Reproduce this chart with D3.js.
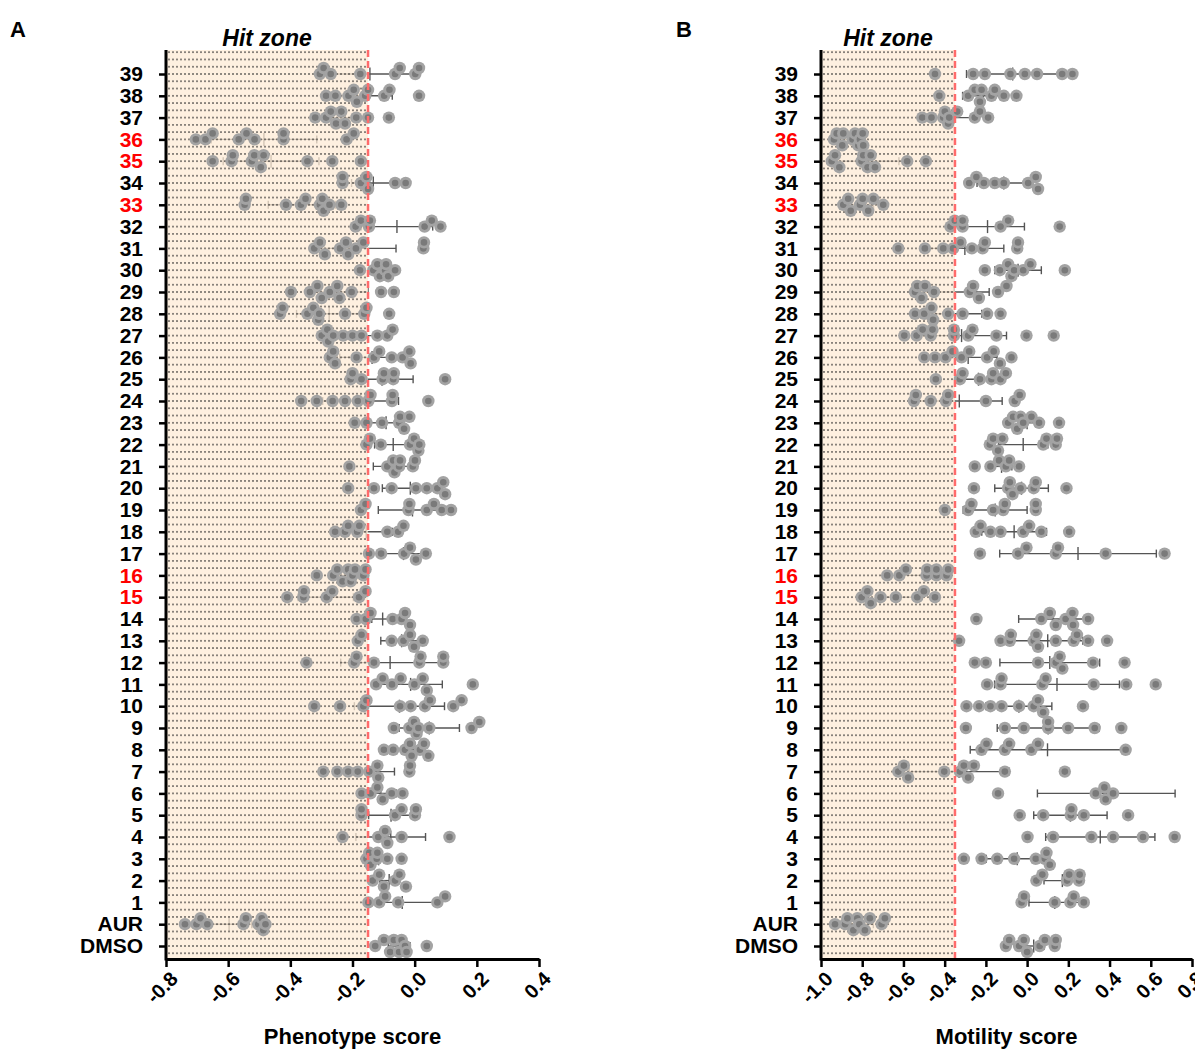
<!DOCTYPE html>
<html>
<head>
<meta charset="utf-8">
<script src="https://cdn.jsdelivr.net/npm/d3@7"></script>
<style>
  body { margin: 0; background: #fff; }
  text { font-family: "Liberation Sans", Arial, sans-serif; }
</style>
</head>
<body>
<div id="chart"></div>
<script>
// row labels, top to bottom
const categories = ["39","38","37","36","35","34","33","32","31","30","29","28","27","26","25","24","23","22","21","20",
  "19","18","17","16","15","14","13","12","11","10","9","8","7","6","5","4","3","2","1","AUR","DMSO"];
const hitLabels = ["36","35","33","16","15"];

const ticksA = [-0.8, -0.6, -0.4, -0.2, 0.0, 0.2, 0.4];
const ticksB = [-1.0, -0.8, -0.6, -0.4, -0.2, 0.0, 0.2, 0.4, 0.6, 0.8];
const hitA = -0.15;
const hitB = -0.35;

// phenotype score, one array of replicates per row
const ptsA = [
  [-0.305,-0.293,-0.27,-0.175,-0.048,-0.063,0.002,0.014],
  [-0.255,-0.285,-0.213,-0.196,-0.186,-0.159,-0.15,-0.098,-0.081,0.014],
  [-0.32,-0.285,-0.27,-0.253,-0.236,-0.224,-0.188,-0.15,-0.083],
  [-0.704,-0.673,-0.65,-0.566,-0.541,-0.515,-0.422,-0.422,-0.219,-0.196],
  [-0.65,-0.589,-0.585,-0.524,-0.516,-0.486,-0.495,-0.345,-0.265,-0.173],
  [-0.232,-0.232,-0.173,-0.155,-0.15,-0.063,-0.029],
  [-0.543,-0.547,-0.414,-0.366,-0.351,-0.305,-0.293,-0.297,-0.274,-0.236],
  [-0.173,-0.19,-0.147,-0.144,0.032,0.055,0.083],
  [-0.323,-0.305,-0.289,-0.24,-0.221,-0.214,-0.189,-0.165,0.028,0.03],
  [-0.176,-0.133,-0.112,-0.12,-0.092,-0.085,-0.095,-0.063],
  [-0.398,-0.337,-0.313,-0.299,-0.273,-0.249,-0.242,-0.203,-0.108,-0.067],
  [-0.433,-0.425,-0.345,-0.326,-0.31,-0.307,-0.224,-0.162,-0.155,-0.082],
  [-0.299,-0.281,-0.278,-0.262,-0.23,-0.2,-0.171,-0.12,-0.088,-0.071],
  [-0.273,-0.262,-0.256,-0.187,-0.131,-0.114,-0.074,-0.039,-0.017,-0.013],
  [-0.206,-0.2,-0.171,-0.103,-0.099,-0.069,-0.067,0.098],
  [-0.365,-0.315,-0.264,-0.224,-0.183,-0.149,-0.142,-0.071,-0.073,0.044],
  [-0.193,-0.155,-0.105,-0.05,-0.047,-0.017,-0.034],
  [-0.155,-0.144,-0.109,-0.015,-0.002,0.015,0.012],
  [-0.21,-0.088,-0.065,-0.069,-0.047,-0.05,-0.006,0.001],
  [-0.214,-0.131,-0.074,0.004,0.039,0.073,0.092,0.098],
  [-0.158,-0.173,-0.02,-0.017,0.039,0.062,0.087,0.117],
  [-0.256,-0.224,-0.214,-0.185,-0.178,-0.088,-0.053,-0.036],
  [-0.147,-0.108,-0.034,-0.015,0.004,0.036],
  [-0.315,-0.262,-0.249,-0.232,-0.214,-0.206,-0.2,-0.192,-0.165,-0.158],
  [-0.41,-0.358,-0.356,-0.283,-0.265,-0.179,-0.158],
  [-0.187,-0.157,-0.142,-0.071,-0.042,-0.031,-0.015],
  [-0.171,-0.183,-0.074,-0.036,-0.015,-0.002,0.026],
  [-0.348,-0.195,-0.187,-0.131,0.015,0.019,0.092,0.092],
  [-0.124,-0.103,-0.073,-0.045,-0.001,0.026,0.039,0.187],
  [-0.323,-0.24,-0.165,-0.155,-0.047,-0.013,0.033,0.049,0.124,0.151],
  [-0.067,-0.017,0.006,-0.002,0.012,0.047,0.183,0.208],
  [-0.099,-0.069,-0.031,-0.015,-0.01,0.017,0.03,0.044],
  [-0.294,-0.249,-0.214,-0.183,-0.146,-0.12,-0.117,-0.015,-0.017],
  [-0.171,-0.142,-0.12,-0.103,-0.074,-0.039],
  [-0.171,-0.171,-0.063,-0.042,0.001,0.004],
  [-0.232,-0.117,-0.095,-0.088,-0.042,0.112],
  [-0.155,-0.146,-0.142,-0.122,-0.12,-0.088,-0.042],
  [-0.135,-0.114,-0.099,-0.063,-0.049,-0.028],
  [-0.149,-0.114,-0.095,-0.053,0.073,0.098],
  [-0.739,-0.702,-0.689,-0.667,-0.551,-0.543,-0.503,-0.492,-0.487,-0.48],
  [-0.127,-0.099,-0.079,-0.067,-0.05,-0.042,-0.031,-0.026,0.039]
];
const meanA = [-0.144,-0.16,-0.223,-0.485,-0.462,-0.133,-0.363,-0.057,-0.18,-0.11,-0.25,-0.275,-0.2,-0.137,-0.105,-0.174,
  -0.092,-0.069,-0.067,-0.014,-0.007,-0.156,-0.036,-0.219,-0.286,-0.103,-0.042,-0.079,-0.013,-0.049,0.047,-0.017,
  -0.154,-0.109,-0.076,-0.077,-0.116,-0.082,-0.04,-0.597,-0.05];
const sdA = [0.138,0.088,0.063,0.17,0.154,0.07,0.108,0.115,0.12,0.03,0.1,0.105,0.088,0.104,0.1,0.122,
  0.05,0.06,0.066,0.09,0.11,0.084,0.063,0.04,0.089,0.035,0.067,0.159,0.102,0.145,0.097,0.048,
  0.089,0.051,0.072,0.112,0.035,0.03,0.102,0.073,0.035];

// motility score
const ptsB = [
  [-0.447,-0.262,-0.205,-0.081,-0.011,0.048,0.17,0.22],
  [-0.426,-0.286,-0.254,-0.229,-0.221,-0.173,-0.157,-0.113,-0.052],
  [-0.509,-0.464,-0.407,-0.399,-0.383,-0.378,-0.339,-0.254,-0.229,-0.189],
  [-0.937,-0.924,-0.892,-0.897,-0.847,-0.835,-0.819,-0.811,-0.798,-0.795],
  [-0.948,-0.932,-0.911,-0.803,-0.795,-0.774,-0.759,-0.738,-0.582,-0.491],
  [-0.281,-0.246,-0.21,-0.157,-0.113,0.005,0.042,0.053],
  [-0.892,-0.868,-0.856,-0.811,-0.798,-0.771,-0.746,-0.698],
  [-0.372,-0.351,-0.313,-0.313,-0.129,-0.092,0.158],
  [-0.625,-0.496,-0.407,-0.359,-0.323,-0.268,-0.216,-0.205,-0.048,-0.044],
  [-0.205,-0.132,-0.092,-0.076,-0.063,-0.019,0.016,0.183],
  [-0.544,-0.533,-0.496,-0.512,-0.452,-0.278,-0.262,-0.234,-0.141,-0.1],
  [-0.544,-0.499,-0.464,-0.456,-0.383,-0.313,-0.194,-0.129],
  [-0.596,-0.536,-0.507,-0.468,-0.459,-0.355,-0.355,-0.286,-0.265,-0.149,-0.003,0.129],
  [-0.499,-0.447,-0.396,-0.362,-0.318,-0.281,-0.194,-0.162,-0.132,-0.076],
  [-0.443,-0.326,-0.313,-0.229,-0.173,-0.165,-0.129,-0.103],
  [-0.549,-0.54,-0.468,-0.394,-0.383,-0.2,-0.06,-0.036],
  [-0.092,-0.068,-0.048,-0.032,-0.019,0.021,0.058,0.155],
  [-0.181,-0.165,-0.141,-0.12,0.078,0.094,0.139,0.145],
  [-0.254,-0.178,-0.136,-0.103,-0.087,-0.039],
  [-0.258,-0.092,-0.071,-0.084,-0.032,0.032,0.042,0.191],
  [-0.399,-0.286,-0.27,-0.165,-0.116,-0.108,0.042,0.042],
  [-0.249,-0.226,-0.178,-0.129,-0.019,0.01,0.069,0.204],
  [-0.229,-0.044,-0.003,0.139,0.15,0.381,0.667],
  [-0.679,-0.62,-0.588,-0.488,-0.485,-0.44,-0.44,-0.391,-0.383],
  [-0.803,-0.775,-0.759,-0.711,-0.637,-0.533,-0.501,-0.447],
  [-0.246,0.069,0.11,0.139,0.187,0.22,0.223,0.296],
  [-0.33,-0.129,-0.079,-0.084,0.032,0.045,0.053,0.139,0.226,0.242,0.296,0.388],
  [-0.254,-0.2,0.053,0.139,0.158,0.171,0.32,0.473],
  [-0.194,-0.129,-0.124,0.074,0.09,0.323,0.481,0.624],
  [-0.294,-0.233,-0.178,-0.124,-0.039,0.032,0.053,0.078,0.271],
  [-0.297,-0.108,-0.016,0.102,0.102,0.199,0.328,0.457],
  [-0.221,-0.197,-0.108,-0.087,0.021,0.053,0.478],
  [-0.625,-0.598,-0.577,-0.402,-0.326,-0.307,-0.286,-0.258,-0.108,0.183],
  [-0.141,0.333,0.375,0.381,0.417],
  [-0.036,0.078,0.215,0.212,0.275,0.49],
  [0.002,0.126,0.312,0.417,0.562,0.716],
  [-0.307,-0.221,-0.145,-0.063,0.042,0.086,0.094,0.11],
  [0.074,0.045,0.194,0.204,0.252,0.255],
  [-0.015,-0.027,0.134,0.21,0.226,0.275],
  [-0.932,-0.883,-0.872,-0.843,-0.824,-0.814,-0.787,-0.763,-0.706,-0.69],
  [-0.103,-0.087,-0.039,-0.016,0.0,0.061,0.086,0.134,0.139]
];
const meanB = [-0.07,-0.213,-0.355,-0.855,-0.77,-0.113,-0.805,-0.192,-0.302,-0.044,-0.354,-0.37,-0.318,-0.286,-0.236,-0.329,
  0.0,-0.019,-0.124,-0.027,-0.155,-0.063,0.247,-0.495,-0.636,0.126,0.1,0.11,0.145,-0.04,0.102,0.099,
  -0.33,0.384,0.21,0.355,-0.048,0.171,0.134,-0.81,0.032];
const sdB = [0.224,0.1,0.1,0.05,0.148,0.13,0.06,0.179,0.189,0.113,0.17,0.15,0.218,0.14,0.113,0.208,
  0.04,0.12,0.05,0.13,0.155,0.157,0.38,0.12,0.085,0.167,0.17,0.242,0.303,0.16,0.247,0.375,
  0.242,0.334,0.178,0.265,0.15,0.089,0.125,0.064,0.05];

const width = 1195, height = 1049;
const plotTop = 50, plotBottom = 959;

const svg = d3.select("#chart").append("svg")
  .attr("width", width)
  .attr("height", height);
const defs = svg.append("defs");

const y = d3.scalePoint().domain(categories).range([74, 946]);

function drawPanel(p) {
  const x = d3.scaleLinear().domain(p.domain).range(p.range);
  const x0 = p.range[0];
  const g = svg.append("g");

  // dotted pattern for the hit zone, one dot row through each category line
  const ph = y.step() / 3;
  const pat = defs.append("pattern")
    .attr("id", "dots" + p.letter)
    .attr("patternUnits", "userSpaceOnUse")
    .attr("x", x0 + 1).attr("y", y(categories[0]) - ph / 2)
    .attr("width", 4).attr("height", ph);
  pat.append("rect")
    .attr("x", 1.3).attr("y", ph / 2 - 0.7)
    .attr("width", 1.4).attr("height", 1.4)
    .attr("fill", "#222");

  const rows = categories.map((c, i) => ({ cat: c, vals: p.points[i], mean: p.means[i], sd: p.sds[i] }));

  // mean +/- sd bars
  const bars = g.append("g").selectAll("g").data(rows).join("g")
    .attr("transform", d => `translate(0,${y(d.cat)})`)
    .attr("stroke", "#555")
    .attr("stroke-width", 1.4);
  bars.append("line")
    .attr("x1", d => x(d.mean - d.sd)).attr("x2", d => x(d.mean + d.sd));
  bars.append("line")
    .attr("x1", d => x(d.mean - d.sd)).attr("x2", d => x(d.mean - d.sd))
    .attr("y1", -4).attr("y2", 4);
  bars.append("line")
    .attr("x1", d => x(d.mean + d.sd)).attr("x2", d => x(d.mean + d.sd))
    .attr("y1", -4).attr("y2", 4);
  bars.append("line")
    .attr("x1", d => x(d.mean)).attr("x2", d => x(d.mean))
    .attr("y1", -6.5).attr("y2", 6.5);

  // hit zone
  g.append("rect")
    .attr("x", x0).attr("y", plotTop)
    .attr("width", x(p.hit) - x0).attr("height", plotBottom - plotTop)
    .attr("fill", "#fdebd6").attr("opacity", 0.75);
  g.append("rect")
    .attr("x", x0).attr("y", plotTop)
    .attr("width", x(p.hit) - x0).attr("height", plotBottom - plotTop)
    .attr("fill", `url(#dots${p.letter})`);

  // points, spread a little up/down where they crowd
  const dots = [];
  rows.forEach(r => {
    const placed = [];
    r.vals.slice().sort((a, b) => a - b).forEach(v => {
      const px = x(v);
      let best = 0, bestD = -1;
      for (const off of [0, -6, 6]) {
        let m = Infinity;
        placed.forEach(q => { m = Math.min(m, Math.hypot(q.px - px, q.off - off)); });
        if (m >= 9) { best = off; bestD = m; break; }
        if (m > bestD) { bestD = m; best = off; }
      }
      placed.push({ px: px, off: best });
      dots.push({ cat: r.cat, v: v, off: best });
    });
  });
  const pts = g.append("g").selectAll("g").data(dots).join("g")
    .attr("transform", d => `translate(${x(d.v)},${y(d.cat) + d.off})`);
  pts.append("circle").attr("r", 6.2).attr("fill", "#a3a3a3");
  pts.append("circle").attr("r", 3.3).attr("fill", "#7a7a7a");

  // threshold line
  g.append("line")
    .attr("x1", x(p.hit)).attr("x2", x(p.hit))
    .attr("y1", plotTop).attr("y2", plotBottom)
    .attr("stroke", "#ff6b6b").attr("stroke-width", 2.5)
    .attr("stroke-dasharray", "7,4");

  // axes
  const yAxis = g.append("g")
    .attr("transform", `translate(${x0},0)`)
    .call(d3.axisLeft(y).tickSize(7).tickPadding(16));
  yAxis.select(".domain").remove();
  yAxis.selectAll(".tick line").attr("stroke-width", 2.5);
  yAxis.selectAll(".tick text")
    .attr("font-size", 21).attr("font-weight", "bold")
    .attr("fill", d => hitLabels.includes(d) ? "#ff0000" : "#000");
  g.append("line")
    .attr("x1", x0).attr("x2", x0)
    .attr("y1", plotTop).attr("y2", plotBottom + 1.5)
    .attr("stroke", "#000").attr("stroke-width", 3);

  const xAxis = g.append("g")
    .attr("transform", `translate(0,${plotBottom})`)
    .call(d3.axisBottom(x).tickValues(p.ticks).tickSize(8).tickSizeOuter(0)
      .tickFormat(d => d.toFixed(1)));
  xAxis.select(".domain").attr("stroke-width", 3);
  xAxis.selectAll(".tick line").attr("stroke-width", 2.5);
  xAxis.selectAll(".tick text")
    .attr("font-size", 20).attr("font-weight", "bold")
    .attr("x", -6).attr("y", 17).attr("dy", "0.35em")
    .attr("transform", "rotate(-45)")
    .style("text-anchor", "end");

  // labels
  svg.append("text")
    .attr("x", (x0 + x(p.hit)) / 2).attr("y", 46)
    .attr("text-anchor", "middle")
    .attr("font-size", 23).attr("font-weight", "bold").attr("font-style", "italic")
    .text("Hit zone");
  svg.append("text")
    .attr("x", (p.range[0] + p.range[1]) / 2).attr("y", 1044)
    .attr("text-anchor", "middle")
    .attr("font-size", 22).attr("font-weight", "bold")
    .text(p.title);
  svg.append("text")
    .attr("x", p.letterX).attr("y", 37)
    .attr("font-size", 22).attr("font-weight", "bold")
    .text(p.letter);
}

drawPanel({ letter: "A", letterX: 10, title: "Phenotype score", domain: [-0.8, 0.4], range: [166, 539],
  ticks: ticksA, hit: hitA, points: ptsA, means: meanA, sds: sdA });
drawPanel({ letter: "B", letterX: 676, title: "Motility score", domain: [-1.0, 0.8], range: [821, 1192],
  ticks: ticksB, hit: hitB, points: ptsB, means: meanB, sds: sdB });
</script>
</body>
</html>
